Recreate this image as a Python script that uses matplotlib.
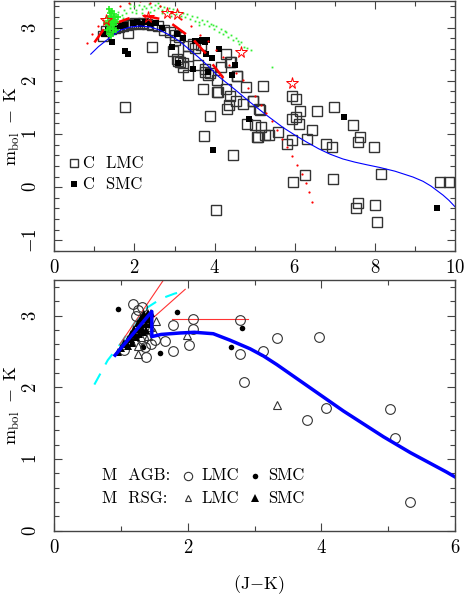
import matplotlib
matplotlib.use("Agg")
import matplotlib.pyplot as plt
from matplotlib.ticker import MultipleLocator

plt.rcParams.update({
    "font.family": "serif",
    "font.serif": ["cmr10"],
    "mathtext.fontset": "cm",
    "axes.formatter.use_mathtext": True,
})

# ---------------- top panel: carbon stars ----------------
c_lmc_x = [1.22, 1.30, 1.42, 1.52, 1.62, 1.72, 1.82, 1.92, 2.02, 2.12, 2.22, 2.32, 2.45, 2.60, 2.75,
           1.85, 2.45, 2.88, 3.00, 3.12, 3.01, 3.34, 3.51, 2.97, 3.05, 3.13, 3.34, 3.22, 3.59, 3.34,
           3.76, 3.88, 4.05, 3.72, 4.05, 3.45, 3.67, 3.09, 3.22, 3.76, 3.84, 4.17, 4.38, 4.28, 4.56,
           4.28, 4.38, 4.53, 4.36, 4.31, 4.71, 4.78, 4.96, 5.21, 5.11, 3.88, 4.80, 5.00, 5.17, 5.06,
           5.25, 5.36, 5.59, 5.92, 6.04, 6.13, 5.92, 6.03, 6.11, 6.31, 5.92, 5.80, 3.74, 4.47, 6.25,
           5.96, 6.56, 6.98, 7.46, 7.64, 7.59, 6.42, 6.78, 6.93, 7.97, 8.14, 6.96, 7.58, 7.54, 8.01,
           8.06, 9.62, 9.84, 4.03, 5.09, 1.76, 4.09, 4.42, 4.55, 4.95, 5.13]
c_lmc_y = [2.85, 2.93, 2.97, 2.99, 3.01, 3.03, 3.05, 3.07, 3.08, 3.07, 3.08, 3.06, 3.05, 3.03, 2.95,
           2.89, 2.64, 2.92, 2.86, 2.82, 2.77, 2.65, 2.62, 2.56, 2.41, 2.35, 2.47, 2.26, 2.29, 2.11,
           2.23, 2.14, 2.02, 1.84, 1.78, 2.70, 2.68, 2.38, 2.33, 2.17, 2.11, 2.26, 2.35, 2.50, 2.08,
           1.84, 1.71, 1.62, 1.55, 1.46, 1.56, 1.89, 1.62, 1.91, 1.46, 1.33, 1.19, 1.16, 1.13, 0.95,
           0.98, 0.98, 1.04, 1.71, 1.66, 1.43, 1.28, 1.31, 1.19, 0.91, 0.89, 0.81, 0.97, 0.61, 0.23,
           0.10, 1.44, 1.50, 1.17, 0.95, 0.84, 1.08, 0.81, 0.75, 0.75, 0.25, 0.16, -0.29, -0.39, -0.33,
           -0.65, 0.10, 0.09, -0.43, 0.94, 1.51, 1.78, 2.35, 2.08, 1.61, 1.45]

c_smc_x = [1.25, 1.35, 1.55, 1.67, 1.77, 1.97, 2.07, 2.17, 2.27, 2.40, 2.55, 2.70, 1.43, 1.76, 1.85,
           2.93, 3.09, 3.45, 3.93, 3.83, 4.12, 3.68, 3.82, 3.75, 4.51, 4.44, 4.86, 3.95, 7.22, 9.54,
           3.78, 3.05, 3.20, 3.50, 3.60]
c_smc_y = [2.88, 2.95, 3.00, 3.02, 3.05, 3.08, 3.10, 3.06, 3.10, 3.07, 3.08, 3.00, 2.72, 2.56, 2.51,
           2.63, 2.33, 2.23, 2.42, 2.17, 2.59, 2.77, 2.77, 2.72, 2.29, 2.10, 1.29, 0.70, 1.32, -0.40,
           2.51, 2.88, 2.80, 2.75, 2.75]

# model curve (blue)
c_model_x = [0.91, 1.10, 1.30, 1.64, 1.90, 2.14, 2.40, 2.64, 2.90, 3.13, 3.35, 3.60, 3.85, 4.10,
             4.50, 4.88, 5.30, 5.71, 6.00, 6.29, 6.60, 6.88, 7.20, 7.50, 7.80, 8.12, 8.50, 8.95,
             9.20, 9.40, 9.70, 9.85, 10.0]
c_model_y = [2.50, 2.64, 2.76, 2.95, 3.01, 3.03, 3.01, 2.95, 2.85, 2.74, 2.60, 2.44, 2.27, 2.08,
             1.84, 1.60, 1.35, 1.12, 0.98, 0.85, 0.72, 0.62, 0.53, 0.47, 0.42, 0.37, 0.30, 0.19,
             0.11, 0.02, -0.15, -0.25, -0.37]

# red dotted track
track_x = [0.82, 0.93, 1.08, 1.22, 1.40, 1.64, 1.87, 2.13, 2.39, 2.64, 2.90, 3.15, 3.40, 3.63,
           3.84, 4.03, 4.20, 4.36, 4.53, 4.70, 4.84, 5.00, 5.15, 5.28, 5.42, 5.55, 5.67, 5.80,
           5.92, 6.05, 6.17, 6.27, 6.35, 6.44]
track_y = [2.71, 2.88, 3.03, 3.15, 3.30, 3.41, 3.47, 3.49, 3.47, 3.41, 3.30, 3.17, 3.02, 2.86,
           2.74, 2.58, 2.44, 2.30, 2.15, 2.01, 1.86, 1.71, 1.55, 1.39, 1.24, 1.07, 0.91, 0.75,
           0.58, 0.41, 0.25, 0.07, -0.10, -0.27]

star_x = [1.30, 2.35, 2.80, 3.05, 4.67, 5.94]
star_y = [3.15, 3.20, 3.28, 3.25, 2.54, 1.95]

# short red segments (x0, x1, y0, y1)
seg_x0 = [1.02, 1.60, 2.26, 2.97, 3.51, 3.97]
seg_x1 = [1.22, 1.85, 2.59, 3.26, 3.76, 4.20]
seg_y0 = [2.74, 3.10, 3.22, 3.05, 2.74, 2.29]
seg_y1 = [2.95, 3.17, 3.17, 2.89, 2.53, 2.07]

# green model points
green_x = [1.55, 1.60, 1.68, 1.75, 1.80, 1.88, 1.95, 2.00, 2.05, 2.12, 2.18, 2.25, 2.30, 2.36,
           2.42, 2.48, 2.52, 2.58, 2.64, 2.70, 2.75, 2.80, 2.86, 2.92, 2.97, 3.03, 3.08, 3.15,
           3.20, 3.26, 3.32, 3.38, 3.44, 3.50, 3.56, 3.62, 3.68, 3.74, 3.80, 3.86, 3.92, 3.98,
           4.04, 4.10, 4.16, 4.22, 4.28, 4.34, 4.40, 4.47, 4.53, 4.60, 4.67, 4.74, 4.82, 4.90,
           5.42, 2.20, 2.90, 3.60, 1.90, 2.60, 1.72, 2.40, 3.10, 3.95, 4.25, 4.58, 2.05, 2.70]
green_y = [3.20, 3.30, 3.24, 3.33, 3.27, 3.36, 3.30, 3.40, 3.33, 3.42, 3.35, 3.41, 3.36, 3.44,
           3.38, 3.33, 3.42, 3.36, 3.40, 3.33, 3.38, 3.30, 3.36, 3.28, 3.34, 3.26, 3.32, 3.22,
           3.28, 3.20, 3.26, 3.16, 3.22, 3.13, 3.19, 3.10, 3.15, 3.06, 3.12, 3.02, 3.07, 2.98,
           3.02, 2.92, 2.97, 2.87, 2.91, 2.82, 2.86, 2.76, 2.80, 2.70, 2.73, 2.64, 2.62, 2.57,
           2.26, 3.28, 3.22, 3.05, 3.44, 3.46, 3.18, 3.30, 3.19, 3.04, 2.93, 2.75, 3.27, 3.27]
gclump_x = [1.32, 1.35, 1.38, 1.40, 1.42, 1.44, 1.46, 1.48, 1.50, 1.52, 1.36, 1.45, 1.55, 1.40,
            1.33, 1.47, 1.50, 1.38, 1.43, 1.58, 1.30, 1.41, 1.53, 1.37, 1.46]
gclump_y = [2.95, 3.05, 3.12, 3.00, 3.20, 3.10, 2.92, 3.25, 3.05, 3.15, 2.88, 3.32, 3.10, 3.28,
            3.18, 2.98, 3.22, 2.98, 3.06, 3.20, 3.08, 2.85, 2.95, 3.35, 3.15]

# ---------------- bottom panel: M stars ----------------
agb_lmc_x = [1.18, 1.31, 1.26, 2.08, 2.07, 1.78, 1.66, 2.02, 1.77, 1.38, 1.33, 1.36, 1.51, 1.05,
             2.78, 2.78, 2.84, 3.13, 3.33, 3.97, 3.79, 4.07, 5.03, 5.10, 5.32, 1.23, 1.45]
agb_lmc_y = [3.16, 3.12, 3.08, 2.95, 2.82, 2.87, 2.65, 2.59, 2.51, 2.43, 2.68, 2.57, 2.66, 2.52,
             2.94, 2.46, 2.08, 2.51, 2.69, 2.70, 1.55, 1.71, 1.70, 1.30, 0.40, 3.00, 2.60]
agb_smc_x = [0.96, 1.83, 1.58, 1.33, 2.64, 2.81]
agb_smc_y = [3.10, 3.06, 2.48, 2.57, 2.57, 2.83]
rsg_lmc_x = [1.52, 1.99, 1.26, 3.33, 1.20, 1.30, 1.35, 1.40, 1.45, 1.15, 1.50, 1.25]
rsg_lmc_y = [2.93, 2.73, 2.47, 1.75, 2.75, 2.70, 2.80, 2.72, 2.85, 2.65, 2.78, 2.58]
rsg_smc_x = [0.95, 1.00, 1.05, 1.10, 1.15, 1.20, 1.25, 1.30, 1.35, 1.40, 1.45, 1.42, 1.38, 1.32,
             1.27, 1.22, 1.17, 1.10, 1.30, 1.35, 1.25, 1.20, 1.15, 1.40, 1.08, 1.28, 1.33, 1.38, 1.43]
rsg_smc_y = [2.50, 2.55, 2.62, 2.68, 2.75, 2.82, 2.90, 2.97, 3.02, 3.04, 3.04, 2.95, 2.88, 2.82,
             2.75, 2.70, 2.62, 2.58, 2.90, 2.95, 2.82, 2.76, 2.68, 2.98, 2.60, 2.85, 2.78, 2.80, 2.88]

m_model_x = [0.91, 1.46, 1.46, 1.60, 1.88, 2.10, 2.38, 2.63, 2.93, 3.13, 3.33, 3.53, 3.73, 3.93,
             4.13, 4.33, 4.53, 4.73, 4.93, 5.13, 5.33, 5.53, 5.73, 5.87, 6.00]
m_model_y = [2.45, 3.06, 2.71, 2.74, 2.76, 2.77, 2.75, 2.66, 2.54, 2.44, 2.32, 2.19, 2.06, 1.93,
             1.80, 1.67, 1.55, 1.43, 1.31, 1.20, 1.09, 0.99, 0.89, 0.82, 0.75]

cyan_x = [0.60, 0.80, 1.00, 1.20, 1.40, 1.60, 1.80, 1.96]
cyan_y = [2.04, 2.38, 2.62, 2.90, 3.12, 3.24, 3.31, 3.35]

red_lines_x = [[0.98, 1.65], [1.03, 1.96], [1.76, 2.90]]
red_lines_y = [[2.60, 3.52], [2.60, 3.37], [2.95, 2.95]]

# ---------------- figure ----------------
fig = plt.figure(figsize=(4.66, 5.96), dpi=100)
ax1 = fig.add_axes([0.1165, 0.5789, 0.860, 0.4195])
ax2 = fig.add_axes([0.1165, 0.1096, 0.860, 0.4206])

edge = "#333333"

# top panel
ax1.plot(green_x, green_y, "s", color="#33ee33", ms=1.3, mew=0)
ax1.plot(c_lmc_x, c_lmc_y, "s", mfc="none", mec=edge, ms=7, mew=1.0)
ax1.plot(c_smc_x, c_smc_y, "s", color="black", ms=4.5, mew=0)
ax1.plot(c_model_x, c_model_y, color="blue", lw=0.8, snap=False,
         solid_joinstyle="round")
ax1.plot(track_x, track_y, "o", color="red", ms=1.6, mew=0)
for x0, x1, y0, y1 in zip(seg_x0, seg_x1, seg_y0, seg_y1):
    ax1.plot([x0, x1], [y0, y1], color="red", lw=1.8)
ax1.plot(gclump_x, gclump_y, "+", color="#22ee22", ms=4, mew=1.2)
ax1.plot(star_x, star_y, "*", mfc="none", mec="red", ms=8.5, mew=0.7)

ax1.plot([0.49], [0.45], "s", mfc="none", mec=edge, ms=6, mew=1.0)
ax1.plot([0.49], [0.06], "s", color="black", ms=4, mew=0)
ax1.text(0.71, 0.45, "C  LMC", fontsize=12, va="center")
ax1.text(0.71, 0.06, "C  SMC", fontsize=12, va="center")

ax1.set_xlim(0, 10)
ax1.set_ylim(-1.2, 3.5)
ax1.xaxis.set_major_locator(MultipleLocator(2))
ax1.xaxis.set_minor_locator(MultipleLocator(1))
ax1.yaxis.set_major_locator(MultipleLocator(1))
ax1.yaxis.set_minor_locator(MultipleLocator(0.2))
ax1.set_ylabel(r"$\mathrm{m_{bol}}\ -\ \mathrm{K}$", fontsize=13)

# bottom panel
ax2.plot(cyan_x, cyan_y, color="cyan", lw=1.5, ls=(0, (6, 5)))
for xs, ys in zip(red_lines_x, red_lines_y):
    ax2.plot(xs, ys, color="#ff3333", lw=0.8)
ax2.plot(agb_lmc_x, agb_lmc_y, "o", mfc="none", mec=edge, ms=7, mew=0.8)
ax2.plot(agb_smc_x, agb_smc_y, "o", color="black", ms=4, mew=0)
ax2.plot(rsg_lmc_x, rsg_lmc_y, "^", mfc="none", mec=edge, ms=6, mew=0.8)
ax2.plot(rsg_smc_x, rsg_smc_y, "^", color="black", ms=6, mew=0)
ax2.plot(m_model_x, m_model_y, color="blue", lw=2.5, snap=False,
         solid_joinstyle="round")

ax2.text(0.71, 0.77, "M  AGB:", fontsize=12, va="center")
ax2.text(0.71, 0.455, "M  RSG:", fontsize=12, va="center")
ax2.plot([2.0], [0.77], "o", mfc="none", mec=edge, ms=6, mew=0.8)
ax2.plot([3.0], [0.77], "o", color="black", ms=4, mew=0)
ax2.plot([2.0], [0.455], "^", mfc="none", mec=edge, ms=5, mew=0.8)
ax2.plot([3.0], [0.455], "^", color="black", ms=5.5, mew=0)
ax2.text(2.21, 0.77, "LMC", fontsize=12, va="center")
ax2.text(3.2, 0.77, "SMC", fontsize=12, va="center")
ax2.text(2.21, 0.455, "LMC", fontsize=12, va="center")
ax2.text(3.2, 0.455, "SMC", fontsize=12, va="center")

ax2.set_xlim(0, 6)
ax2.set_ylim(0, 3.5)
ax2.xaxis.set_major_locator(MultipleLocator(2))
ax2.xaxis.set_minor_locator(MultipleLocator(1))
ax2.yaxis.set_major_locator(MultipleLocator(1))
ax2.yaxis.set_minor_locator(MultipleLocator(0.2))
ax2.set_ylabel(r"$\mathrm{m_{bol}}\ -\ \mathrm{K}$", fontsize=13)
ax2.set_xlabel(r"$\mathrm{(J{-}K)}$", fontsize=13)
ax2.xaxis.set_label_coords(0.51, -0.17)

for ax in (ax1, ax2):
    ax.tick_params(which="both", direction="in", top=True, right=True,
                   color="#444444", width=0.8, labelsize=13.5)
    ax.tick_params(which="major", length=6)
    ax.tick_params(which="minor", length=3.5)
    ax.tick_params(axis="y", labelrotation=90, pad=10)
    ax.tick_params(axis="x", pad=6)
    for sp in ax.spines.values():
        sp.set_color("#444444")
        sp.set_linewidth(1.0)
    for lab in ax.get_yticklabels():
        lab.set_va("center")
    ax.yaxis.set_label_coords(-0.08, 0.5)

fig.savefig("out.png", dpi=100)
